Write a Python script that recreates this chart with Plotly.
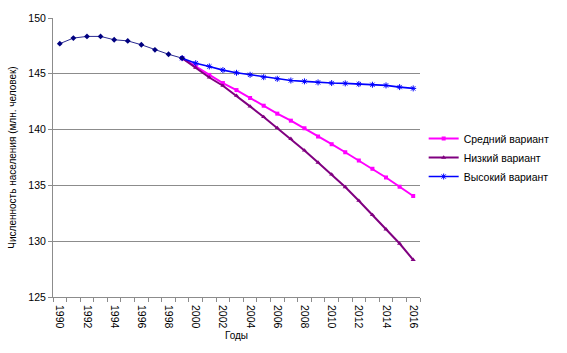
import plotly.graph_objects as go

hist_years = list(range(1990, 2000))
hist_vals = [147.7, 148.2, 148.35, 148.35, 148.05, 147.95, 147.6, 147.15, 146.75, 146.4]

fc_years = list(range(1999, 2017))
medium = [146.4, 145.65, 144.9, 144.17, 143.54, 142.83, 142.14, 141.43, 140.8, 140.12,
          139.38, 138.69, 137.97, 137.23, 136.49, 135.71, 134.88, 134.05]
low = [146.4, 145.55, 144.67, 143.93, 143.04, 142.08, 141.13, 140.15, 139.17, 138.13,
       137.05, 135.98, 134.85, 133.63, 132.35, 131.07, 129.79, 128.33]
high = [146.4, 145.95, 145.66, 145.33, 145.09, 144.91, 144.7, 144.55, 144.4, 144.32,
        144.23, 144.17, 144.14, 144.08, 144.02, 143.96, 143.81, 143.69]

tick_years = list(range(1990, 2017, 2))
names = ["Средний вариант", "Низкий вариант", "Высокий вариант"]

FONT = "Liberation Sans, Arial, sans-serif"
AX = "#8c8c8c"

fig = go.Figure()
fig.add_trace(go.Scatter(x=hist_years, y=hist_vals, mode="lines+markers", showlegend=False,
                         xaxis="x2",
                         line=dict(color="#2a2a90", width=1),
                         marker=dict(symbol="diamond", size=4.5, color="#000080")))
fig.add_trace(go.Scatter(x=fc_years, y=medium, mode="lines+markers", name=names[0],
                         line=dict(color="#FF00FF", width=2),
                         marker=dict(symbol="square", size=4, color="#FF00FF")))
fig.add_trace(go.Scatter(x=fc_years, y=low, mode="lines+markers", name=names[1],
                         line=dict(color="#800080", width=2),
                         marker=dict(symbol="triangle-up", size=4.5, color="#800080")))
fig.add_trace(go.Scatter(x=fc_years, y=high, mode="lines+markers", name=names[2],
                         line=dict(color="#0000FF", width=1.6),
                         marker=dict(symbol="asterisk-open", size=5, color="#0000FF",
                                     line=dict(color="#0000FF", width=1))))

fig.update_layout(
    width=567, height=353,
    margin=dict(l=49, r=112, t=17, b=56),
    paper_bgcolor="white", plot_bgcolor="white",
    font=dict(family=FONT, size=10, color="black"),
    legend=dict(x=1.01, y=0.62, xanchor="left", yanchor="top",
                font=dict(family=FONT, size=10.5, color="black"),
                itemwidth=30, tracegroupgap=0, bgcolor="rgba(0,0,0,0)"),
    # boundary tick marks between year categories
    xaxis=dict(range=[1989.5, 2016.5], tickmode="linear", tick0=1989.5, dtick=1,
               ticks="outside", ticklen=4, tickcolor=AX, showticklabels=False,
               showgrid=False, zeroline=False,
               showline=True, linecolor=AX, linewidth=1),
    # year labels every 2 years
    xaxis2=dict(overlaying="x", matches="x", anchor="y", side="bottom",
                tickvals=tick_years, ticktext=[str(y) for y in tick_years],
                tickangle=90, ticks="", showgrid=False, zeroline=False, showline=False,
                ticklabelstandoff=7,
                tickfont=dict(family=FONT, size=10.5),
                title=dict(text="Годы", font=dict(family=FONT, size=10), standoff=4)),
    yaxis=dict(range=[125, 150], dtick=5, ticks="outside", ticklen=4, tickcolor=AX,
               showgrid=True, gridcolor=AX, gridwidth=1, zeroline=False,
               showline=True, linecolor=AX, linewidth=1,
               tickfont=dict(family=FONT, size=10.5),
               title=dict(text="Численность населения (млн. человек)",
                          font=dict(family=FONT, size=10), standoff=9)),
)

fig.write_html("out.html")
